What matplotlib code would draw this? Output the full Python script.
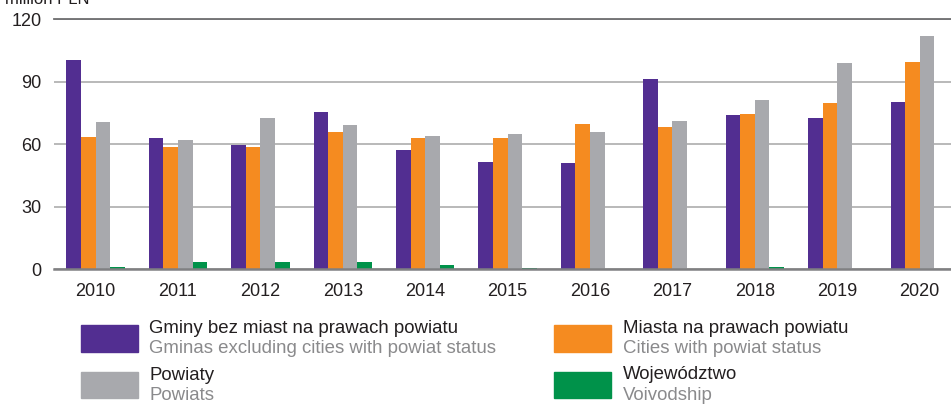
#Grouped bar chart: expenditure by level of local government, 2010-2020

import numpy as np
import matplotlib.pyplot as plt
from matplotlib.patches import Rectangle

plt.rcParams['font.family'] = ['Liberation Sans', 'DejaVu Sans']

years = ['2010', '2011', '2012', '2013', '2014', '2015', '2016', '2017', '2018', '2019', '2020']
gminy = [100.5, 63.2, 59.5, 75.5, 57.3, 51.5, 51.0, 91.4, 74.1, 72.6, 80.3]
miasta = [63.7, 58.9, 58.7, 66.0, 63.0, 63.0, 69.8, 68.3, 74.6, 79.8, 99.5]
powiaty = [70.7, 62.1, 72.6, 69.3, 64.0, 65.0, 66.0, 71.2, 81.3, 99.0, 112.0]
wojewodztwo = [1.2, 3.5, 3.5, 3.5, 2.1, 0.8, 0.0, 0.0, 1.1, 0.0, 0.0]

names_pl = ['Gminy bez miast na prawach powiatu', 'Miasta na prawach powiatu', 'Powiaty', 'Województwo']
names_en = ['Gminas excluding cities with powiat status', 'Cities with powiat status', 'Powiats', 'Voivodship']
colors = ['#522E91', '#F58B20', '#A8A9AD', '#00924A']
yticks = [0, 30, 60, 90, 120]

text_col = '#231F20'
sub_col = '#8A8A8C'

fig = plt.figure(figsize=(9.51, 4.05), dpi=100)
ax = fig.add_axes([54/951, 135.7/405, 1 - 54/951, 250/405])

x = np.arange(len(years))
w = 0.177
series = [gminy, miasta, powiaty, wojewodztwo]
for i, vals in enumerate(series):
    ax.bar(x + (i - 1.5)*w, vals, width=w, color=colors[i], zorder=3)

ax.set_ylim(0, 120)
ax.set_xlim(-0.504, 10.38)
ax.set_yticks(yticks)
ax.set_xticks(x)
ax.set_xticklabels(years)
ax.tick_params(axis='both', length=0, labelsize=13, colors=text_col)
ax.tick_params(axis='y', pad=9)
ax.tick_params(axis='x', pad=10)
ax.yaxis.grid(True, color='#B3B3B3', linewidth=1.3, zorder=0)
for s in ['left', 'right']:
    ax.spines[s].set_visible(False)
ax.spines['top'].set_color('#6E6E70')
ax.spines['top'].set_linewidth(1.3)
ax.spines['bottom'].set_color('#808082')
ax.spines['bottom'].set_linewidth(1.8)
ax.spines['bottom'].set_zorder(4)

#unit label, partly cut off at the top edge like in the source
fig.text(5/951, 1 - 4/405, 'million PLN', fontsize=12, color=text_col, va='baseline')

#legend drawn by hand, two columns
sw_x = [80.7, 554, 80.7, 554]
sw_y = [325, 325, 371.7, 371.7]
txt_x = [149.3, 623, 149.3, 623]
pl_base = [333, 333, 380, 379]
en_base = [353, 353, 400, 400]
for i in range(4):
    fig.patches.append(Rectangle((sw_x[i]/951, 1 - (sw_y[i] + 26.5)/405), 57/951, 26.5/405,
                                 transform=fig.transFigure, color=colors[i], figure=fig))
    fig.text(txt_x[i]/951, 1 - pl_base[i]/405, names_pl[i], fontsize=13.4, color=text_col, va='baseline')
    fig.text(txt_x[i]/951, 1 - en_base[i]/405, names_en[i], fontsize=13.4, color=sub_col, va='baseline')

fig.savefig('out.png', dpi=100)
